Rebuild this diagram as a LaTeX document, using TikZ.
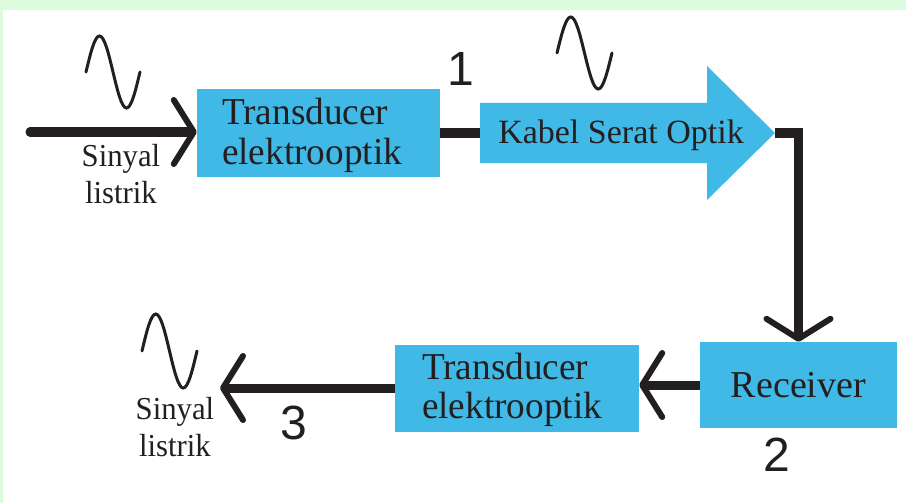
\documentclass[tikz,border=0pt]{standalone}
\usepackage{fontspec}
\setmainfont{Liberation Serif}
\newfontfamily\numfont{Liberation Sans}
\usetikzlibrary{arrows.meta}
\definecolor{boxblue}{HTML}{41B9E6}
\definecolor{ink}{HTML}{231F20}
\definecolor{bandgreen}{HTML}{DCFADC}
\newcommand\narrowed[1]{\scalebox{0.98}[1]{#1}}
\newcommand\sigw[1]{\scalebox{0.96}[1]{#1}}
\tikzset{
  chev/.tip={Straight Barb[length=20pt,width=64pt,line width=6pt,round]},
  conn/.style={draw=ink,line width=9pt},
  blockbox/.style={fill=boxblue,draw=none,inner sep=0pt,text=ink},
  wave/.style={draw=ink,line width=3pt,line cap=round},
  sigtext/.style={align=center,text=ink,font=\fontsize{32}{36.5}\selectfont,inner sep=0pt},
  numtext/.style={text=ink,font=\numfont\fontsize{48}{48}\selectfont,inner sep=0pt}
}
\begin{document}
\begin{tikzpicture}[x=1pt,y=-1pt]
\useasboundingbox (0,0) rectangle (906,503);
\fill[white] (0,0) rectangle (906,503);
\fill[bandgreen] (0,0) rectangle (906,10);
\fill[bandgreen] (0,0) rectangle (3,503);

% blocks
\node[blockbox,minimum width=243pt,minimum height=88pt,align=left,text width=193pt,
      font=\fontsize{38}{40}\selectfont] (box1) at (318.5,133)
      {\rule{0pt}{32pt}\narrowed{Transducer}\\\narrowed{elektrooptik}};
\node[blockbox,minimum width=197pt,minimum height=86pt,align=center,
      font=\fontsize{38}{40}\selectfont] (recv) at (798.5,385)
      {Receiver};
\node[blockbox,minimum width=244pt,minimum height=87pt,align=left,text width=190pt,
      font=\fontsize{38}{39}\selectfont] (box2) at (517,388)
      {\rule{0pt}{31pt}\narrowed{Transducer}\\\narrowed{elektrooptik}};

% fibre-optic cable arrow
\coordinate (cableW) at (480,133);
\coordinate (cableTip) at (775,133);
\fill[boxblue] (480,103) -- (707,103) -- (707,66) -- (cableTip) -- (707,200)
   -- (707,163) -- (480,163) -- cycle;
\node[text=ink,inner sep=0pt,font=\fontsize{34}{40}\selectfont] (cable) at (621,135)
   {Kabel Serat Optik};

% connectors
\coordinate (inL) at (30,132);
\coordinate (outL) at (220,388);
\draw[conn,line cap=round,-chev] (inL) -- (box1.west |- inL);
\draw[conn] (box1.east |- cableW) -- (cableW);
\draw[conn,-chev] (cableTip) -| (recv.north);
\draw[conn,-chev] (recv.west) -- (box2.east |- recv.west);
\draw[conn,-chev] (box2.west) -- (outL);

% signal waves
\draw[wave] (86,72) sin (99.5,36) cos (113,72) sin (126.5,108) cos (140,72);
\draw[wave] (557,53) sin (570.75,17) cos (584.5,53) sin (598.25,89) cos (612,53);
\draw[wave] (142,351) sin (155.75,314) cos (169.5,351) sin (183.25,388) cos (197,351);

% labels
\node[sigtext] (sigin) at (121,174) {\sigw{Sinyal}\\\sigw{listrik}};
\node[sigtext,font=\fontsize{32}{37}\selectfont] (sigout) at (175,427.5) {\sigw{Sinyal}\\\sigw{listrik}};
\node[numtext] (n1) at (461,69) {1};
\node[numtext] (n2) at (777,455) {2};
\node[numtext] (n3) at (294,423) {3};
\end{tikzpicture}
\end{document}
